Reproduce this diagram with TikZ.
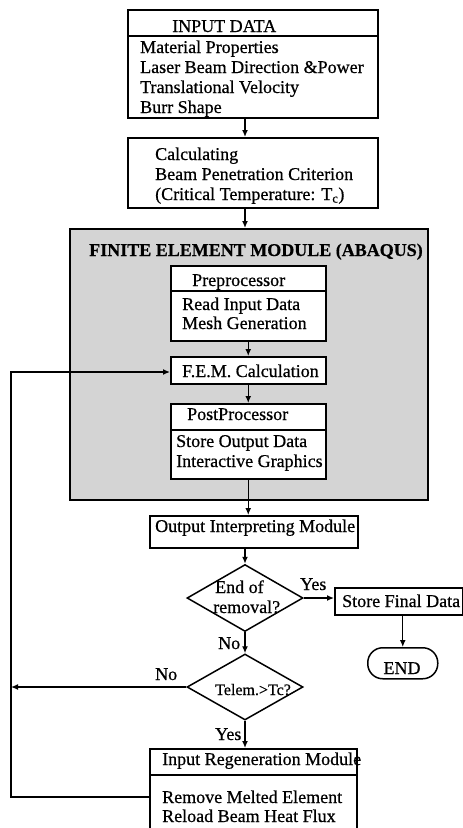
\documentclass[tikz,border=0pt]{standalone}
\usepackage{fontspec}
\setmainfont{Liberation Serif}[FakeBold=0.6]
\usetikzlibrary{arrows.meta,shapes.geometric}
\definecolor{femgray}{rgb}{0.83,0.83,0.83}
\begin{document}
\begin{tikzpicture}[x=1pt,y=-1pt,
  box/.style={draw, line width=1.5pt, fill=white, inner sep=0pt, anchor=north west},
  dia/.style={draw, line width=1.5pt, fill=white, diamond, inner sep=0pt, minimum width=116pt, minimum height=66pt},
  txt/.style={anchor=base west, inner sep=0pt, font=\fontsize{18}{20}\selectfont},
  arr/.style={line width=1.3pt, -{Latex[length=7pt,width=6pt]}},
  ln/.style={line width=1.3pt}]
\useasboundingbox (0,0) rectangle (463,828);
\clip (0,0) rectangle (463,828);
\fill[white] (0,0) rectangle (463,828);

% input data
\node[box, minimum width=250pt, minimum height=26pt] (inhead) at (127,9) {};
\node[box, minimum width=250pt, minimum height=82pt] (inbody) at (127,35) {};
\node[txt] (t1) at (172,32) {INPUT DATA};
\node[txt] (t2) at (140,53) {Material Properties};
\node[txt] (t3) at (140,73) {Laser Beam Direction \&Power};
\node[txt] (t4) at (140,93) {Translational Velocity};
\node[txt] (t5) at (140,113) {Burr Shape};

% calculating
\node[box, minimum width=250pt, minimum height=70pt] (calc) at (127,137) {};
\node[txt] (t6) at (155,160) {Calculating};
\node[txt] (t7) at (155,180) {Beam Penetration Criterion};
\node[txt] (t8) at (155,200) {(Critical Temperature: T\textsubscript{c})};

% FE module
\node[box, fill=femgray, minimum width=358pt, minimum height=271pt] (fem) at (69,228) {};
\node[anchor=base, inner sep=0pt, font=\fontsize{18}{20}\selectfont\bfseries] (femt) at (256,256) {FINITE ELEMENT MODULE (ABAQUS)};

\node[box, minimum width=155pt, minimum height=25pt] (prehead) at (170,265) {};
\node[box, minimum width=155pt, minimum height=50pt] (prebody) at (170,290) {};
\node[txt] (t9) at (192,286) {Preprocessor};
\node[txt] (t10) at (182,310) {Read Input Data};
\node[txt] (t11) at (182,329) {Mesh Generation};

\node[box, minimum width=155pt, minimum height=27pt] (femcalc) at (170,356) {};
\node[txt] (t12) at (182,377) {F.E.M. Calculation};

\node[box, minimum width=155pt, minimum height=26pt] (posthead) at (170,403) {};
\node[box, minimum width=155pt, minimum height=49pt] (postbody) at (170,429) {};
\node[txt] (t13) at (187,420) {PostProcessor};
\node[txt] (t14) at (176,447) {Store Output Data};
\node[txt] (t15) at (176,467) {Interactive Graphics};

% output interpreting
\node[box, minimum width=208pt, minimum height=32pt] (outint) at (149,515) {};
\node[txt] (t16) at (155,532) {Output Interpreting Module};

% decision 1
\node[dia, minimum height=67pt] (dia1) at (245,598) {};
\node[txt] (t17) at (215,593) {End of};
\node[txt] (t18) at (213,613) {removal?};

\node[box, minimum width=128pt, minimum height=27pt] (store) at (334,587) {};
\node[txt] (t19) at (342,607) {Store Final Data};

\node[box, rounded corners=15pt, minimum width=70pt, minimum height=31pt] (endn) at (367,647) {};
\node[anchor=base, inner sep=0pt, font=\fontsize{18}{20}\selectfont] (t20) at (402,674) {END};

% decision 2
\node[dia] (dia2) at (245,687) {};
\node[anchor=base west, inner sep=0pt, font=\fontsize{16}{18}\selectfont] (t21) at (215,695) {Telem.>Tc?};

% regeneration
\node[box, minimum width=207pt, minimum height=26pt] (reghead) at (149,748) {};
\node[box, minimum width=207pt, minimum height=70pt] (regbody) at (149,774) {};
\node[txt] (t22) at (162,765) {Input Regeneration Module};
\node[txt] (t23) at (162,803) {Remove Melted Element};
\node[txt] (t24) at (162,822) {Reload Beam Heat Flux};

% labels
\node[txt] (yes1) at (300,590) {Yes};
\node[txt] (no1) at (218,649) {No};
\node[txt] (no2) at (155,680) {No};
\node[txt] (yes2) at (215,740) {Yes};

% loop coordinates
\coordinate (lb) at (11,797);
\coordinate (lt) at (11,372);

% connectors
\draw[arr] (inbody.south -| dia1.north) -- (calc.north -| dia1.north);
\draw[arr] (calc.south -| dia1.north) -- (fem.north -| dia1.north);
\draw[arr] (prebody.south) -- (femcalc.north);
\draw[arr] (femcalc.south) -- (posthead.north);
\draw[arr] (postbody.south) -- (outint.north -| postbody.south);
\draw[arr] (outint.south -| dia1.north) -- (dia1.north);
\draw[arr] (dia1.east) -- (store.west |- dia1.east);
\draw[arr] (store.south -| endn.north) -- (endn.north);
\draw[arr] (dia1.south) -- (dia2.north);
\draw[arr] (dia2.west) -- (dia2.west -| lb);
\draw[arr] (dia2.south) -- (reghead.north -| dia2.south);
\draw[arr] (lb -| regbody.west) -- (lb) -- (lt) -- (lt -| femcalc.west);
\end{tikzpicture}
\end{document}
